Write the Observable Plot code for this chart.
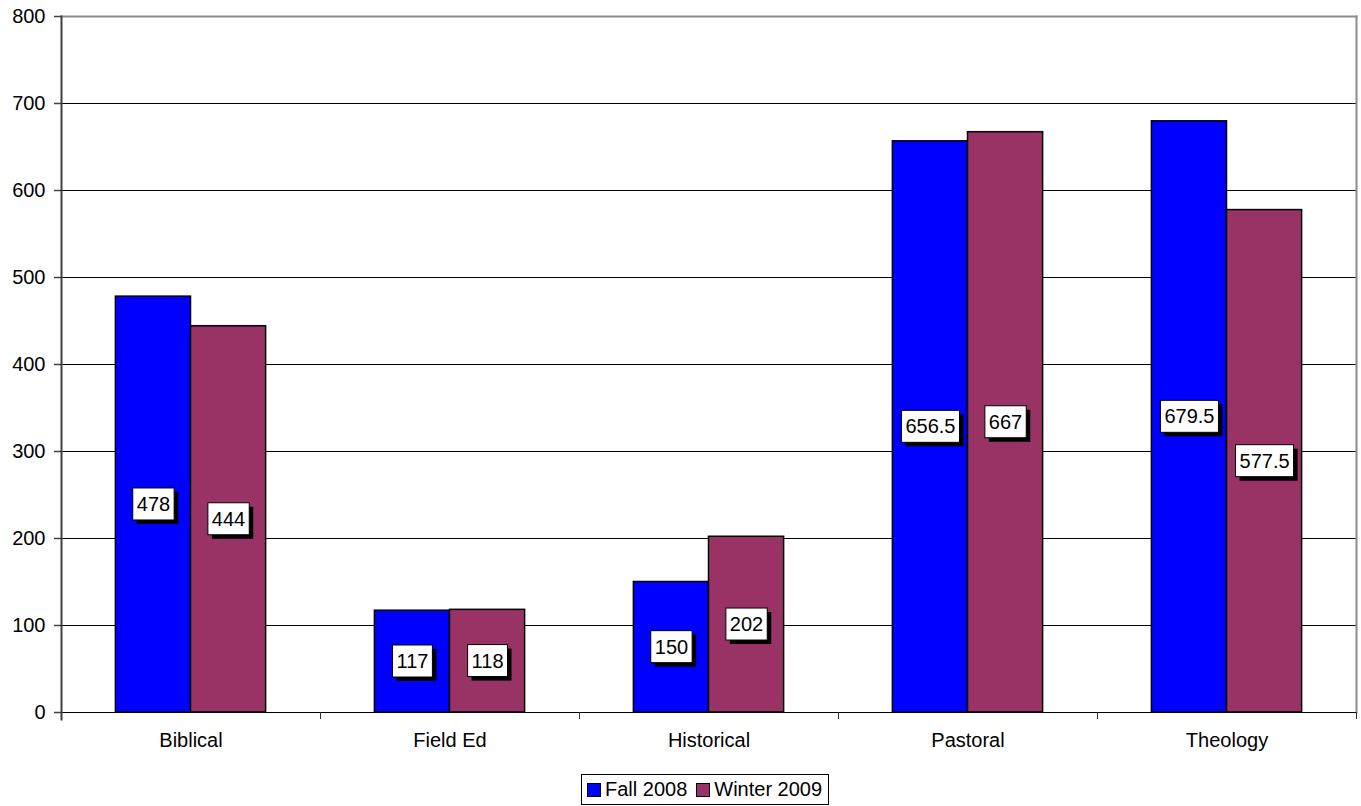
<!DOCTYPE html>
<html>
<head>
<meta charset="utf-8">
<script src="https://cdn.jsdelivr.net/npm/d3@7"></script>
<script src="https://cdn.jsdelivr.net/npm/@observablehq/plot@0.6"></script>
<style>
  html, body { margin: 0; padding: 0; background: #fff; }
  body { width: 1361px; height: 806px; position: relative; overflow: hidden; font-family: "Liberation Sans", Arial, sans-serif; }
  #legend { position: absolute; left: 581px; top: 774px; height: 31px; border: 1px solid #000; box-sizing: border-box;
            display: flex; align-items: center; padding: 0 6px 0 5px; font-size: 20px; color: #000; background: #fff; }
  #legend .item { display: flex; align-items: center; margin-right: 9px; }
  #legend .item:last-child { margin-right: 0; }
  #legend .sw { width: 12px; height: 12px; border: 1px solid #000; margin-right: 4px; }
</style>
</head>
<body>
<div id="chart"></div>
<div id="legend"></div>
<script>
const categories = ["Biblical", "Field Ed", "Historical", "Pastoral", "Theology"];
const seriesNames = ["Fall 2008", "Winter 2009"];
const fall2008 = [478, 117, 150, 656.5, 679.5];
const winter2009 = [444, 118, 202, 667, 577.5];
const yTicks = [0, 100, 200, 300, 400, 500, 600, 700, 800];
const colors = ["#0000FF", "#993366"];

const width = 1361, height = 760;
const marginLeft = 61, marginRight = 5, marginTop = 16, marginBottom = 48;
const bw = (width - marginLeft - marginRight) / categories.length;
const gap = bw * 0.21, barW = bw * 0.29;

const fallData = categories.map((c, i) => ({cat: c, value: fall2008[i]}));
const winterData = categories.map((c, i) => ({cat: c, value: winter2009[i]}));
const labelOffset = bw / 2 - gap - barW / 2;

const plot = Plot.plot({
  width, height, marginLeft, marginRight, marginTop, marginBottom,
  style: {fontFamily: "'Liberation Sans', Arial, sans-serif", fontSize: "20px", color: "#000", background: "#fff"},
  x: {domain: categories, padding: 0, label: null},
  y: {domain: [0, 800], label: null},
  marks: [
    Plot.ruleY(yTicks.filter(t => t > 0 && t < 800), {stroke: "#000", strokeWidth: 1}),
    Plot.frame({anchor: "top", stroke: "#8c8c8c", strokeWidth: 2}),
    Plot.frame({anchor: "right", stroke: "#8c8c8c", strokeWidth: 2}),
    Plot.barY(fallData, {x: "cat", y: "value", fill: colors[0], stroke: "#000", strokeWidth: 1.5,
      insetLeft: gap, insetRight: bw - gap - barW}),
    Plot.barY(winterData, {x: "cat", y: "value", fill: colors[1], stroke: "#000", strokeWidth: 1.5,
      insetLeft: bw - gap - barW, insetRight: gap}),
    Plot.ruleY([0], {stroke: "#000", strokeWidth: 1}),
    Plot.ruleX(categories, {x: d => d, dx: -bw / 2, y1: 0, y2: 0, insetBottom: -7, stroke: "#333"}),
    Plot.ruleX(categories.slice(-1), {x: d => d, dx: bw / 2, y1: 0, y2: 0, insetBottom: -7, stroke: "#333"}),
    Plot.frame({anchor: "left", stroke: "#404040", strokeWidth: 2, insetBottom: -7}),
    Plot.axisY({ticks: yTicks, tickSize: 7, tickPadding: 9, fontSize: 20, stroke: "#404040", strokeWidth: 1.5}),
    Plot.axisX({tickSize: 0, tickPadding: 20, fontSize: 20}),
    Plot.text(fallData, {x: "cat", y: d => d.value / 2, dx: -labelOffset, text: d => String(d.value),
      fontSize: 20, fill: "#000", className: "vlabel"}),
    Plot.text(winterData, {x: "cat", y: d => d.value / 2, dx: labelOffset, text: d => String(d.value),
      fontSize: 20, fill: "#000", className: "vlabel"})
  ]
});
document.getElementById("chart").appendChild(plot);

// white boxes with black drop shadow behind value labels
plot.querySelectorAll("g.vlabel text").forEach(t => {
  const b = t.getBBox();
  const padX = 4, padY = 5;
  const ns = "http://www.w3.org/2000/svg";
  const g = t.parentNode;
  const shadow = document.createElementNS(ns, "rect");
  const box = document.createElementNS(ns, "rect");
  const tr = t.getAttribute("transform");
  for (const [r, off] of [[shadow, 4], [box, 0]]) {
    r.setAttribute("x", b.x - padX + off);
    r.setAttribute("y", b.y - padY + off);
    r.setAttribute("width", b.width + 2 * padX);
    r.setAttribute("height", b.height + 2 * padY);
    if (tr) r.setAttribute("transform", tr);
  }
  shadow.setAttribute("fill", "#000");
  box.setAttribute("fill", "#fff");
  box.setAttribute("stroke", "#000");
  box.setAttribute("stroke-width", "1");
  g.insertBefore(shadow, t);
  g.insertBefore(box, t);
});

// legend
const legend = document.getElementById("legend");
seriesNames.forEach((name, i) => {
  const item = document.createElement("div");
  item.className = "item";
  const sw = document.createElement("div");
  sw.className = "sw";
  sw.style.background = colors[i];
  const lab = document.createElement("span");
  lab.textContent = name;
  item.appendChild(sw);
  item.appendChild(lab);
  legend.appendChild(item);
});
</script>
</body>
</html>
